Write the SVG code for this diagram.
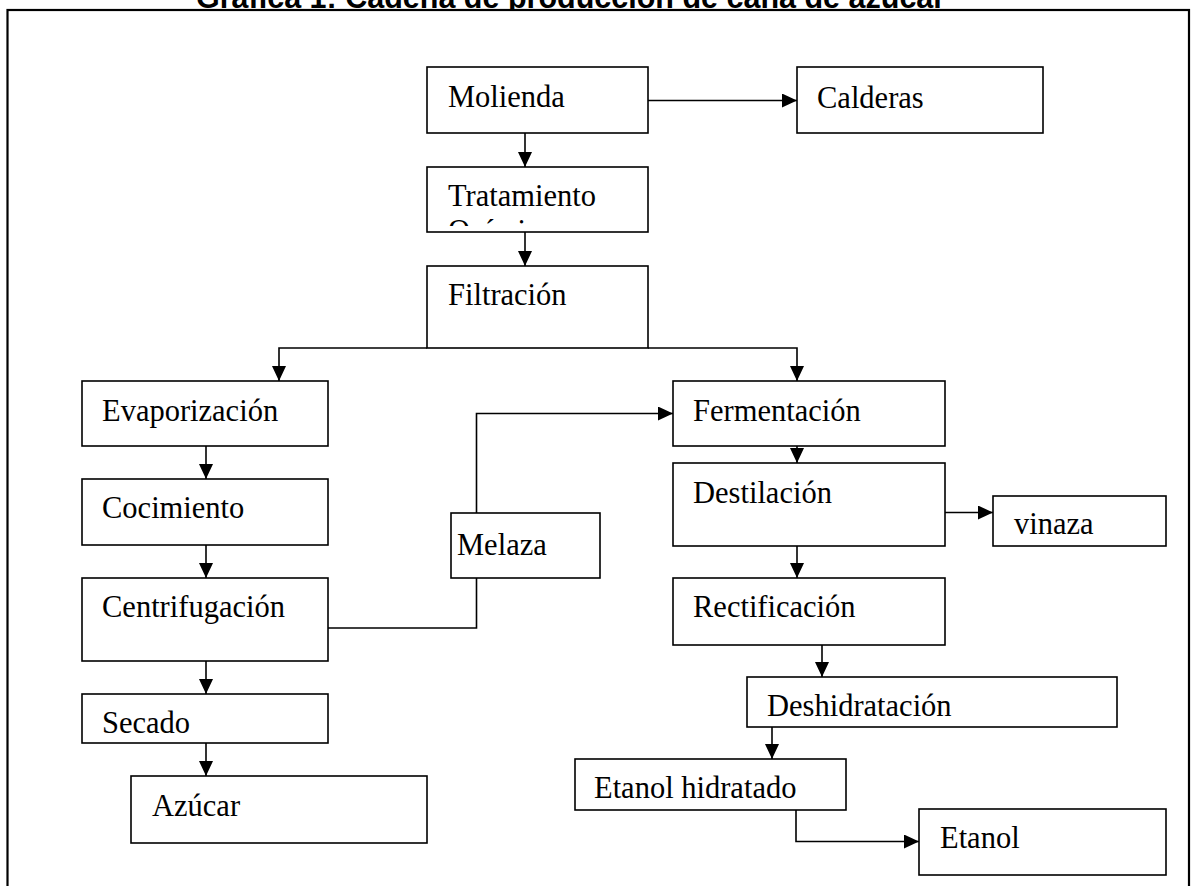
<svg xmlns="http://www.w3.org/2000/svg" width="1191" height="886" viewBox="0 0 1191 886">
  <defs>
    <marker id="arrow" viewBox="0 0 15 14" refX="15" refY="7" markerWidth="15" markerHeight="14" markerUnits="userSpaceOnUse" orient="auto">
      <path d="M0,0 L15,7 L0,14 Z" fill="#000"/>
    </marker>
    <clipPath id="clip-tratamiento">
      <rect x="428" y="168" width="219" height="58"/>
    </clipPath>
  </defs>
  <style>
    .box { fill: #fff; stroke: #000; stroke-width: 1.6; }
    .frame { fill: #fff; stroke: #000; stroke-width: 2.2; }
    .lbl { font-family: "Liberation Serif", "Times New Roman", serif; font-size: 30.5px; fill: #000; }
    .title { font-family: "Liberation Sans", Arial, sans-serif; font-weight: bold; font-size: 30.5px; fill: #000; }
    .link { fill: none; stroke: #000; stroke-width: 1.6; }
    .arr { marker-end: url(#arrow); }
  </style>

  <rect width="1191" height="886" fill="#fff"/>
  <text class="title" x="196" y="7.5">Gráfica 1: Cadena de producción de caña de azúcar</text>
  <rect class="frame" x="7.5" y="10" width="1181.5" height="900"/>

  <!-- connectors -->
  <g id="connectors">
    <line class="link arr" x1="648" y1="100.5" x2="797" y2="100.5"/>
    <line class="link arr" x1="525" y1="133" x2="525" y2="167"/>
    <line class="link arr" x1="525" y1="232" x2="525" y2="266"/>
    <polyline class="link arr" points="427,348 279,348 279,381"/>
    <polyline class="link arr" points="648,348 797,348 797,381"/>
    <line class="link arr" x1="206" y1="446" x2="206" y2="479"/>
    <line class="link arr" x1="206" y1="545" x2="206" y2="578"/>
    <line class="link arr" x1="206" y1="661" x2="206" y2="694"/>
    <line class="link arr" x1="206" y1="743" x2="206" y2="776"/>
    <polyline class="link arr" points="328,628 476.5,628 476.5,413.5 673,413.5"/>
    <line class="link arr" x1="797" y1="446" x2="797" y2="463"/>
    <line class="link arr" x1="945" y1="512.5" x2="993" y2="512.5"/>
    <line class="link arr" x1="797" y1="546" x2="797" y2="578"/>
    <line class="link arr" x1="822" y1="645" x2="822" y2="677"/>
    <line class="link arr" x1="772" y1="727" x2="772" y2="759"/>
    <polyline class="link arr" points="796,810 796,841.5 919,841.5"/>
  </g>

  <g id="molienda">
    <rect class="box" x="427" y="67" width="221" height="66"/>
    <text class="lbl" x="448" y="107">Molienda</text>
  </g>
  <g id="calderas">
    <rect class="box" x="797" y="67" width="246" height="66"/>
    <text class="lbl" x="817" y="108">Calderas</text>
  </g>
  <g id="tratamiento">
    <rect class="box" x="427" y="167" width="221" height="65"/>
    <g clip-path="url(#clip-tratamiento)">
      <text class="lbl" x="448" y="206">Tratamiento</text>
      <text class="lbl" x="448" y="241">Químico</text>
    </g>
  </g>
  <g id="filtracion">
    <rect class="box" x="427" y="266" width="221" height="82"/>
    <text class="lbl" x="448" y="305">Filtración</text>
  </g>
  <g id="evaporizacion">
    <rect class="box" x="82" y="381" width="246" height="65"/>
    <text class="lbl" x="102" y="421">Evaporización</text>
  </g>
  <g id="cocimiento">
    <rect class="box" x="82" y="479" width="246" height="66"/>
    <text class="lbl" x="102" y="518">Cocimiento</text>
  </g>
  <g id="centrifugacion">
    <rect class="box" x="82" y="578" width="246" height="83"/>
    <text class="lbl" x="102" y="617">Centrifugación</text>
  </g>
  <g id="secado">
    <rect class="box" x="82" y="694" width="246" height="49"/>
    <text class="lbl" x="102" y="733">Secado</text>
  </g>
  <g id="azucar">
    <rect class="box" x="131" y="776" width="296" height="67"/>
    <text class="lbl" x="152" y="816">Azúcar</text>
  </g>
  <g id="melaza">
    <rect class="box" x="451" y="513" width="149" height="65"/>
    <text class="lbl" x="457" y="555">Melaza</text>
  </g>
  <g id="fermentacion">
    <rect class="box" x="673" y="381" width="272" height="65"/>
    <text class="lbl" x="693" y="421">Fermentación</text>
  </g>
  <g id="destilacion">
    <rect class="box" x="673" y="463" width="272" height="83"/>
    <text class="lbl" x="693" y="503">Destilación</text>
  </g>
  <g id="vinaza">
    <rect class="box" x="993" y="496" width="173" height="50"/>
    <text class="lbl" x="1014" y="534">vinaza</text>
  </g>
  <g id="rectificacion">
    <rect class="box" x="673" y="578" width="272" height="67"/>
    <text class="lbl" x="693" y="617">Rectificación</text>
  </g>
  <g id="deshidratacion">
    <rect class="box" x="747" y="677" width="370" height="50"/>
    <text class="lbl" x="767" y="716">Deshidratación</text>
  </g>
  <g id="etanol-hidratado">
    <rect class="box" x="575" y="759" width="271" height="51"/>
    <text class="lbl" x="594" y="798">Etanol hidratado</text>
  </g>
  <g id="etanol">
    <rect class="box" x="919" y="809" width="247" height="66"/>
    <text class="lbl" x="940" y="848">Etanol</text>
  </g>
</svg>
